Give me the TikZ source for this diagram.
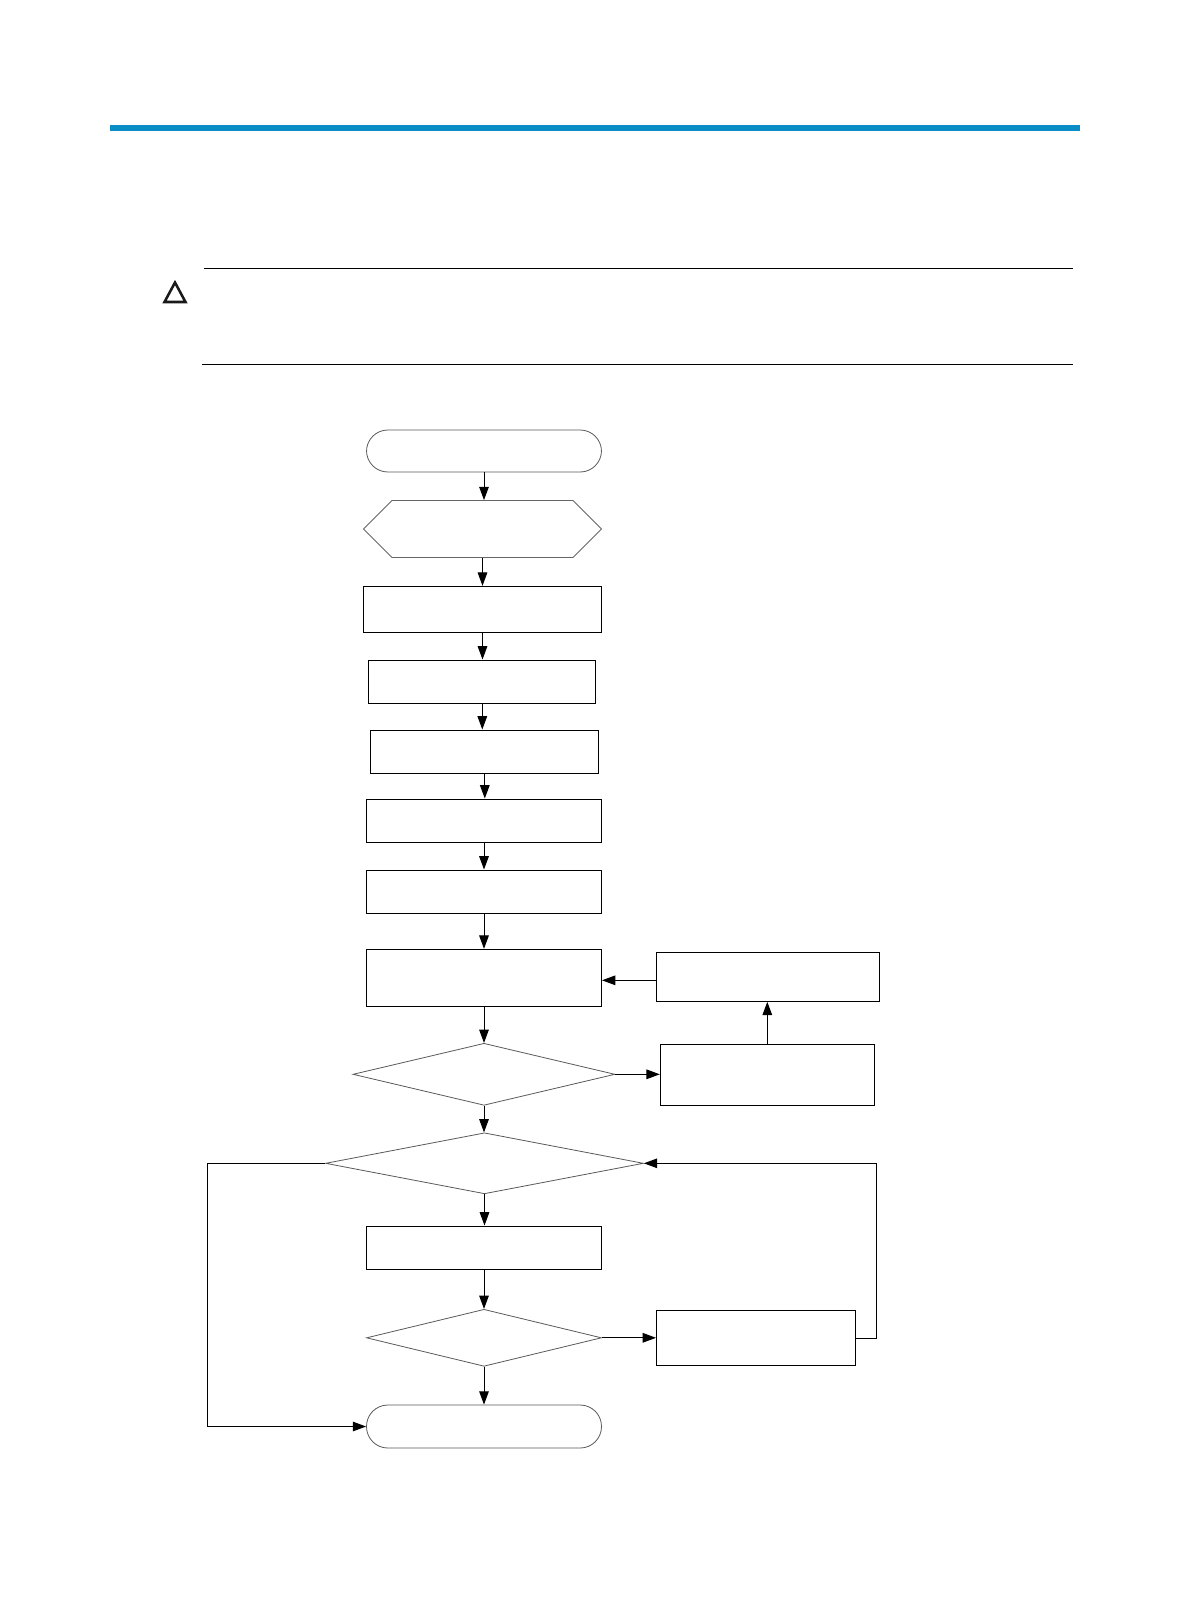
\documentclass[tikz,border=0pt]{standalone}
\usetikzlibrary{arrows.meta,shapes.geometric,shapes.symbols}
\definecolor{barblue}{HTML}{0A8CC4}
\tikzset{
    sized/.style 2 args={minimum width=#1*0.75pt, minimum height=#2*0.75pt, inner sep=0pt},
    procbox/.style={draw=black, line width=0.75pt},
    pillbox/.style={draw=black!65, line width=0.6pt, rounded corners=16pt},
    hexbox/.style={draw=black!60, line width=0.6pt, signal, signal to=west and east, signal pointer angle=90},
    decide/.style={draw=black!65, line width=0.6pt, diamond},
    flow/.style={draw=black, line width=0.75pt, -{Triangle[length=10pt, width=7.2pt]}}
}
\begin{document}
\begin{tikzpicture}[x=0.75pt, y=-0.75pt]
        \useasboundingbox (0,0) rectangle (1190,1614);

        % --- 1. Page Header and Caution Block ---
        \fill[barblue] (110,125) rectangle (1080,131);
        \draw[line width=0.75pt] (204,268.3) -- (1072.7,268.3);
        \draw[line width=0.75pt] (202,364.3) -- (1072.7,364.3);
        \draw[black!90, line width=1.9pt, line join=miter] (175,282.5) -- (185.5,302) -- (164.5,302) -- cycle;

        % --- 2. Main Column ---
        \node[pillbox, sized={235}{42}] (start) at (484,451) {};
        \node[hexbox, sized={238}{57}] (check) at (482.5,529) {};
        \node[procbox, sized={238}{46}] (prep) at (482.5,609.3) {};
        \node[procbox, sized={227}{43}] (load) at (482.3,681.5) {};
        \node[procbox, sized={228}{43}] (save) at (484.8,751.5) {};
        \node[procbox, sized={235}{43}] (setup) at (484,820.5) {};
        \node[procbox, sized={235}{43}] (apply) at (484,891.5) {};
        \node[procbox, sized={235}{57}] (verify) at (484,977.8) {};
        \node[decide, sized={262}{62}] (okfirst) at (484,1074.3) {};
        \node[decide, sized={318}{61}] (oksecond) at (484.5,1163.3) {};
        \node[procbox, sized={235}{43}] (reboot) at (484,1247.5) {};
        \node[decide, sized={235}{57}] (okthird) at (484,1337.8) {};
        \node[pillbox, sized={235}{43}] (done) at (484,1426.5) {};

        % --- 3. Side Boxes ---
        \node[procbox, sized={223}{49}] (retry) at (767.8,976.8) {};
        \node[procbox, sized={214}{61}] (fix) at (767.3,1074.8) {};
        \node[procbox, sized={199}{55}] (rollback) at (756,1338) {};

        % --- 4. Straight Arrows Down the Column ---
        \foreach \a/\b in {start/check, check/prep, prep/load, load/save, save/setup, setup/apply,
                apply/verify, verify/okfirst, okfirst/oksecond, oksecond/reboot, reboot/okthird, okthird/done} {
            \draw[flow] (\a.south) -- (\a.south |- \b.north);
        }

        % --- 5. Side Loops ---
        \draw[flow] (okfirst.east) -- (okfirst.east -| fix.west);
        \draw[flow] (fix.north) -- (fix.north |- retry.south);
        \draw[flow] (retry.west |- 0,980.3) -- (verify.east |- 0,980.3);
        \draw[flow] (okthird.east) -- (okthird.east -| rollback.west);
        \draw[flow] (rollback.east) -- (876,1338) |- (oksecond.east);
        \draw[flow] (oksecond.west) -- (207,1163.3) |- (done.west);

    \end{tikzpicture}
\end{document}
